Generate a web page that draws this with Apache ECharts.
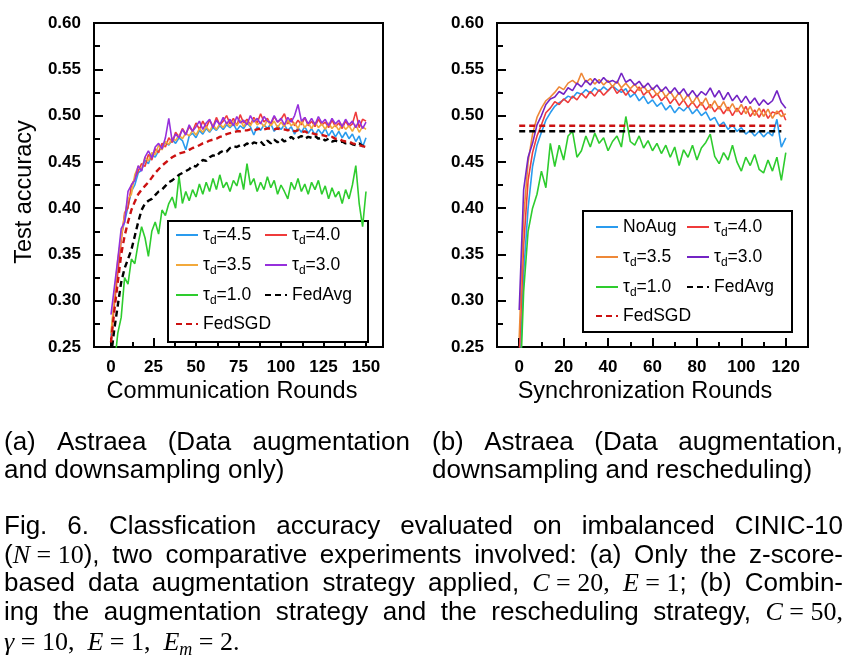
<!DOCTYPE html>
<html><head><meta charset="utf-8">
<script src="https://cdn.jsdelivr.net/npm/echarts@6/dist/echarts.min.js"></script>
<style>html,body{margin:0;padding:0;background:#fff}#c{width:847px;height:663px}</style>
</head><body><div id="c"></div>
<script>
// ---------- DATA ----------
const roundsA = [0,2,4,6,8,10,12,14,16,18,20,22,24,26,28,30,32,34,36,38,40,42,44,46,48,50,52,54,56,58,60,62,64,66,68,70,72,74,76,78,80,82,84,86,88,90,92,94,96,98,100,102,104,106,108,110,112,114,116,118,120,122,124,126,128,130,132,134,136,138,140,142,144,146,148,150];
const a_tau45 = [0.262,0.300,0.338,0.372,0.385,0.402,0.418,0.425,0.438,0.441,0.452,0.448,0.458,0.455,0.462,0.466,0.471,0.468,0.474,0.470,0.476,0.473,0.463,0.478,0.481,0.476,0.484,0.480,0.486,0.482,0.487,0.484,0.489,0.485,0.490,0.487,0.491,0.484,0.489,0.486,0.492,0.488,0.479,0.488,0.484,0.490,0.486,0.491,0.483,0.489,0.485,0.490,0.484,0.488,0.480,0.487,0.482,0.488,0.481,0.486,0.479,0.485,0.480,0.486,0.478,0.484,0.477,0.483,0.476,0.482,0.475,0.480,0.472,0.478,0.466,0.476];
const a_tau40 = [0.255,0.296,0.330,0.365,0.395,0.400,0.425,0.432,0.440,0.448,0.445,0.458,0.452,0.464,0.460,0.470,0.466,0.476,0.471,0.482,0.477,0.486,0.480,0.488,0.483,0.492,0.485,0.494,0.487,0.495,0.488,0.498,0.490,0.494,0.500,0.491,0.497,0.489,0.501,0.492,0.496,0.490,0.498,0.492,0.502,0.493,0.497,0.490,0.499,0.493,0.496,0.502,0.491,0.497,0.489,0.495,0.490,0.498,0.489,0.494,0.488,0.496,0.490,0.493,0.487,0.495,0.488,0.492,0.486,0.494,0.488,0.491,0.504,0.487,0.496,0.494];
const a_tau35 = [0.265,0.305,0.345,0.368,0.392,0.410,0.415,0.436,0.445,0.442,0.455,0.451,0.460,0.458,0.468,0.463,0.472,0.469,0.476,0.473,0.479,0.475,0.481,0.478,0.484,0.479,0.486,0.482,0.488,0.483,0.490,0.485,0.491,0.487,0.493,0.488,0.494,0.489,0.495,0.488,0.494,0.489,0.496,0.490,0.493,0.488,0.495,0.489,0.494,0.487,0.493,0.488,0.495,0.489,0.492,0.486,0.494,0.487,0.492,0.486,0.493,0.487,0.491,0.485,0.492,0.486,0.490,0.484,0.491,0.485,0.489,0.483,0.490,0.482,0.488,0.485];
const a_tau30 = [0.285,0.315,0.345,0.378,0.385,0.418,0.425,0.430,0.446,0.440,0.455,0.462,0.454,0.466,0.470,0.464,0.476,0.497,0.472,0.480,0.476,0.485,0.479,0.490,0.483,0.488,0.494,0.485,0.492,0.496,0.487,0.495,0.490,0.498,0.491,0.496,0.489,0.499,0.492,0.495,0.490,0.500,0.493,0.497,0.491,0.499,0.494,0.492,0.500,0.493,0.497,0.490,0.498,0.493,0.500,0.512,0.494,0.498,0.491,0.497,0.490,0.499,0.492,0.496,0.489,0.497,0.491,0.495,0.488,0.496,0.490,0.494,0.487,0.495,0.486,0.493];
const a_tau10 = [0.200,0.230,0.265,0.282,0.325,0.318,0.345,0.340,0.362,0.380,0.368,0.348,0.375,0.385,0.372,0.398,0.392,0.405,0.412,0.400,0.435,0.405,0.418,0.408,0.420,0.412,0.426,0.415,0.428,0.418,0.432,0.420,0.436,0.422,0.428,0.418,0.430,0.424,0.438,0.420,0.448,0.425,0.432,0.418,0.428,0.420,0.434,0.422,0.430,0.415,0.425,0.418,0.410,0.428,0.420,0.432,0.418,0.426,0.415,0.428,0.420,0.430,0.415,0.424,0.410,0.422,0.412,0.418,0.405,0.420,0.410,0.425,0.446,0.405,0.380,0.418];
const a_fedavg = [0.240,0.270,0.295,0.320,0.335,0.345,0.355,0.370,0.385,0.398,0.405,0.408,0.410,0.414,0.418,0.420,0.424,0.428,0.430,0.433,0.436,0.438,0.440,0.442,0.446,0.445,0.449,0.452,0.451,0.455,0.457,0.456,0.460,0.462,0.461,0.465,0.467,0.466,0.468,0.467,0.470,0.468,0.471,0.470,0.472,0.468,0.473,0.470,0.474,0.471,0.475,0.472,0.474,0.477,0.474,0.476,0.478,0.475,0.477,0.476,0.478,0.475,0.476,0.473,0.475,0.472,0.473,0.471,0.472,0.470,0.471,0.469,0.468,0.470,0.467,0.470];
const a_fedsgd = [0.255,0.290,0.320,0.350,0.370,0.385,0.398,0.407,0.415,0.420,0.424,0.428,0.433,0.438,0.442,0.446,0.449,0.452,0.455,0.457,0.459,0.460,0.461,0.463,0.465,0.466,0.468,0.470,0.471,0.473,0.474,0.475,0.477,0.478,0.480,0.481,0.482,0.483,0.483,0.484,0.484,0.485,0.484,0.485,0.486,0.485,0.486,0.486,0.485,0.486,0.485,0.485,0.484,0.485,0.483,0.484,0.482,0.483,0.481,0.481,0.480,0.479,0.479,0.478,0.477,0.477,0.475,0.475,0.473,0.472,0.472,0.470,0.469,0.468,0.467,0.466];

const roundsB = [0,2,4,6,8,10,12,14,16,18,20,22,24,26,28,30,32,34,36,38,40,42,44,46,48,50,52,54,56,58,60,62,64,66,68,70,72,74,76,78,80,82,84,86,88,90,92,94,96,98,100,102,104,106,108,110,112,114,116,118,120];
const b_noaug = [0.200,0.330,0.400,0.445,0.468,0.482,0.495,0.503,0.510,0.514,0.517,0.521,0.519,0.525,0.523,0.528,0.524,0.530,0.526,0.531,0.527,0.532,0.528,0.525,0.529,0.520,0.524,0.516,0.521,0.513,0.517,0.510,0.514,0.506,0.511,0.503,0.509,0.505,0.510,0.502,0.507,0.500,0.504,0.495,0.498,0.489,0.493,0.485,0.490,0.483,0.487,0.480,0.484,0.478,0.483,0.477,0.482,0.478,0.496,0.466,0.476];
const b_tau40 = [0.240,0.360,0.430,0.460,0.478,0.490,0.503,0.508,0.515,0.512,0.518,0.514,0.521,0.517,0.524,0.519,0.526,0.521,0.528,0.522,0.527,0.532,0.524,0.529,0.522,0.528,0.524,0.531,0.522,0.527,0.519,0.524,0.516,0.521,0.513,0.519,0.511,0.517,0.509,0.515,0.508,0.514,0.506,0.512,0.504,0.510,0.502,0.509,0.500,0.508,0.501,0.510,0.499,0.506,0.498,0.507,0.497,0.504,0.502,0.506,0.495];
const b_tau35 = [0.260,0.390,0.450,0.480,0.498,0.508,0.516,0.520,0.525,0.531,0.528,0.535,0.538,0.534,0.546,0.536,0.540,0.534,0.539,0.533,0.538,0.531,0.537,0.530,0.535,0.529,0.534,0.527,0.532,0.525,0.530,0.522,0.528,0.520,0.526,0.518,0.525,0.516,0.523,0.513,0.521,0.511,0.519,0.508,0.516,0.507,0.515,0.505,0.513,0.504,0.512,0.502,0.510,0.500,0.508,0.499,0.507,0.497,0.505,0.499,0.502];
const b_tau30 = [0.290,0.420,0.455,0.470,0.490,0.500,0.512,0.518,0.520,0.526,0.523,0.530,0.527,0.535,0.531,0.538,0.533,0.540,0.535,0.541,0.536,0.538,0.535,0.546,0.536,0.539,0.533,0.537,0.530,0.535,0.528,0.533,0.526,0.531,0.524,0.530,0.523,0.529,0.521,0.527,0.520,0.526,0.522,0.530,0.520,0.527,0.517,0.525,0.516,0.522,0.514,0.521,0.513,0.519,0.511,0.517,0.512,0.516,0.527,0.514,0.508];
const b_tau10 = [0.180,0.310,0.375,0.400,0.415,0.440,0.422,0.470,0.445,0.468,0.452,0.478,0.483,0.455,0.462,0.478,0.466,0.481,0.470,0.476,0.462,0.472,0.478,0.466,0.499,0.472,0.468,0.478,0.465,0.473,0.462,0.470,0.459,0.468,0.455,0.466,0.446,0.463,0.455,0.468,0.452,0.465,0.471,0.480,0.456,0.448,0.460,0.452,0.468,0.450,0.440,0.455,0.446,0.458,0.442,0.438,0.452,0.440,0.455,0.430,0.460];
const roundsBflat = [0,118];
const b_fedavg = [0.483,0.483];
const b_fedsgd = [0.489,0.489];

const xTicksA = [0,25,50,75,100,125,150];
const xMinorA = [12.5,37.5,62.5,87.5,112.5,137.5];
const xTicksB = [0,20,40,60,80,100,120];
const xMinorB = [10,30,50,70,90,110];

const capA1 = ['(a)','Astraea','(Data','augmentation'];
const capA2 = ['and','downsampling','only)'];
const capB1 = ['(b)','Astraea','(Data','augmentation,'];
const capB2 = ['downsampling','and','rescheduling)'];
const fig1 = ['Fig.','6.','Classfication','accuracy','evaluated','on','imbalanced','CINIC-10'];
const fig2 = [[['(','s'],['N','i'],[' = 10','r'],['),','s']],'two','comparative','experiments','involved:','(a)','Only','the','z-score-'];
const fig3 = ['based','data','augmentation','strategy','applied,',[['C','i'],[' = 20,','r']],[['E','i'],[' = 1','r'],[';','s']],'(b)','Combin-'];
const fig4 = ['ing','the','augmentation','strategy','and','the','rescheduling','strategy,',[['C','i'],[' = 50,','r']]];
const fig5 = [[['γ','i'],[' = 10,','r']],[['E','i'],[' = 1,','r']],[['E','i'],['m','m'],[' = 2.','r']]];

// ---------- BUILD ----------
const FF = '"Liberation Sans", Arial, sans-serif';
const zip = (xs, ys) => xs.map((x, i) => [x, ys[i]]);
const C = {blue:'#2A9BEE', red:'#EF3B3B', orangeA:'#F2A93B', orangeB:'#EE8838', purpleA:'#9630DC', purpleB:'#7324C4', green:'#2ECC2E', dred:'#CC1111', black:'#000'};

function ser(name, xi, yi, xs, ys, color, dashed) {
  return {name, type:'line', xAxisIndex:xi, yAxisIndex:yi, data:zip(xs, ys), symbol:'none', showSymbol:false,
    lineStyle:{color, width: dashed ? 2.4 : 1.6, type: dashed ? [6,4] : 'solid'}, itemStyle:{color}, animation:false, silent:true};
}
const series = [
  ser('A:τd=4.5',0,0,roundsA,a_tau45,C.blue),
  ser('A:τd=4.0',0,0,roundsA,a_tau40,C.red),
  ser('A:τd=3.5',0,0,roundsA,a_tau35,C.orangeA),
  ser('A:τd=3.0',0,0,roundsA,a_tau30,C.purpleA),
  ser('A:τd=1.0',0,0,roundsA,a_tau10,C.green),
  ser('A:FedAvg',0,0,roundsA,a_fedavg,C.black,true),
  ser('A:FedSGD',0,0,roundsA,a_fedsgd,C.dred,true),
  ser('B:NoAug',2,1,roundsB,b_noaug,C.blue),
  ser('B:τd=4.0',2,1,roundsB,b_tau40,C.red),
  ser('B:τd=3.5',2,1,roundsB,b_tau35,C.orangeB),
  ser('B:τd=3.0',2,1,roundsB,b_tau30,C.purpleB),
  ser('B:τd=1.0',2,1,roundsB,b_tau10,C.green),
  ser('B:FedAvg',2,1,roundsBflat,b_fedavg,C.black,true),
  ser('B:FedSGD',2,1,roundsBflat,b_fedsgd,C.dred,true)
];

const axisLine = {show:true, onZero:false, lineStyle:{color:'#000', width:2}};
const tickLabel = {color:'#000', fontWeight:'bold', fontSize:17, fontFamily:FF};
const nameStyle = (pad) => ({color:'#000', fontSize:23.5, fontFamily:FF, padding:pad});
function xMain(gi, min, max, ticks, name, pad) {
  return {gridIndex:gi, type:'value', min, max, position:'bottom', axisLine,
    axisTick:{show:true, inside:true, length:9, customValues:ticks, lineStyle:{color:'#000', width:2}},
    axisLabel:Object.assign({customValues:ticks, margin:12}, tickLabel), splitLine:{show:false},
    name, nameLocation:'middle', nameGap:33, nameTextStyle:nameStyle(pad)};
}
function xMinor(gi, min, max, ticks) {
  return {gridIndex:gi, type:'value', min, max, position:'bottom', axisLine:{show:false, onZero:false},
    axisTick:{show:true, inside:true, length:5, customValues:ticks, lineStyle:{color:'#000', width:2}},
    axisLabel:{show:false}, splitLine:{show:false}};
}
function yAx(gi, name) {
  const o = {gridIndex:gi, type:'value', min:0.25, max:0.60, interval:0.05, axisLine,
    axisTick:{show:true, inside:true, length:9, lineStyle:{color:'#000', width:2}},
    minorTick:{show:true, splitNumber:2, length:6, lineStyle:{color:'#000', width:2}},
    axisLabel:Object.assign({margin:13, formatter:v => v.toFixed(2)}, tickLabel),
    splitLine:{show:false}, minorSplitLine:{show:false}};
  if (name) Object.assign(o, {name, nameLocation:'middle', nameGap:57, nameTextStyle:nameStyle([0,14,0,0])});
  return o;
}

const legFmt = name => {
  const n = name.slice(2);
  if (n.indexOf('τd=') === 0) return '{t|τ}{s|d}{t|=' + n.slice(3) + '}';
  return '{t|' + n + '}';
};
const legRich = {t:{fontSize:17.5, fontFamily:FF, color:'#000', lineHeight:24, verticalAlign:'middle'},
                 s:{fontSize:12, fontFamily:FF, color:'#000', lineHeight:12, verticalAlign:'bottom'}};
function leg(name, left, cy) {
  return {show:true, data:[name], left, top:cy-12, padding:0, itemWidth:22, itemHeight:12, selectedMode:false,
    itemStyle:{opacity:0, borderWidth:0},
    formatter:legFmt, textStyle:{color:'#000', fontSize:17.5, fontFamily:FF, rich:legRich}};
}
const legends = [
  leg('A:τd=4.5',175,238), leg('A:τd=4.0',264,238),
  leg('A:τd=3.5',175,268), leg('A:τd=3.0',264,268),
  leg('A:τd=1.0',175,298), leg('A:FedAvg',264,298),
  leg('A:FedSGD',175,327),
  leg('B:NoAug',595,230), leg('B:τd=4.0',686,230),
  leg('B:τd=3.5',595,260), leg('B:τd=3.0',686,260),
  leg('B:τd=1.0',595,290), leg('B:FedAvg',686,290),
  leg('B:FedSGD',595,319)
];

// captions (justified text)
const ctx = document.createElement('canvas').getContext('2d');
const FONTS = {s:'26px "Liberation Sans"', i:'italic 26px "Liberation Serif"', r:'26px "Liberation Serif"', m:'italic 18px "Liberation Serif"'};
const runs = w => typeof w === 'string' ? [[w,'s']] : w;
const runW = r => { ctx.font = FONTS[r[1]]; return ctx.measureText(r[0]).width; };
const graphics = [];
function placeLine(words, x0, x1, y, justify, fixedGap) {
  const ws = words.map(w => runs(w).reduce((s, r) => s + runW(r), 0));
  const total = ws.reduce((a, b) => a + b, 0);
  ctx.font = FONTS.s;
  const gap = justify ? (x1 - x0 - total) / (words.length - 1) : (fixedGap || ctx.measureText(' ').width);
  let x = x0;
  words.forEach(w => {
    runs(w).forEach(r => {
      graphics.push({type:'text', x, y: y + (r[1] === 'm' ? 7 : 0), z:5,
        style:{text:r[0], font:FONTS[r[1]], fill:'#000', verticalAlign:'middle', align:'left'}});
      x += runW(r);
    });
    x += gap;
  });
}
placeLine(capA1, 4, 410, 443, true);
placeLine(capA2, 4, 0, 471, false);
placeLine(capB1, 432, 843, 443, true);
placeLine(capB2, 432, 0, 471, false);
placeLine(fig1, 4, 843, 527, true);
placeLine(fig2, 4, 843, 556, true);
placeLine(fig3, 4, 843, 584, true);
placeLine(fig4, 4, 843, 613, true);
placeLine(fig5, 4, 0, 643, false, 13);

// legend boxes
graphics.push({type:'rect', z:3, shape:{x:168, y:221, width:200, height:121}, style:{fill:'#fff', stroke:'#000', lineWidth:2}});
graphics.push({type:'rect', z:3, shape:{x:583, y:211, width:209, height:121}, style:{fill:'#fff', stroke:'#000', lineWidth:2}});

const chart = echarts.init(document.getElementById('c'), null, {renderer:'canvas'});
chart.setOption({
  animation:false,
  backgroundColor:'#fff',
  grid:[
    {left:94, top:23, width:289, height:324, show:true, borderColor:'#000', borderWidth:2, backgroundColor:'transparent'},
    {left:497, top:23, width:311, height:324, show:true, borderColor:'#000', borderWidth:2, backgroundColor:'transparent'}
  ],
  xAxis:[
    xMain(0,-10,160,xTicksA,'Communication Rounds',[0,13,0,0]),
    xMinor(0,-10,160,xMinorA),
    xMain(1,-10,130,xTicksB,'Synchronization Rounds',[0,15,0,0]),
    xMinor(1,-10,130,xMinorB)
  ],
  yAxis:[yAx(0,'Test accuracy'), yAx(1,null)],
  legend:legends,
  graphic:graphics,
  series
});
</script></body></html>
